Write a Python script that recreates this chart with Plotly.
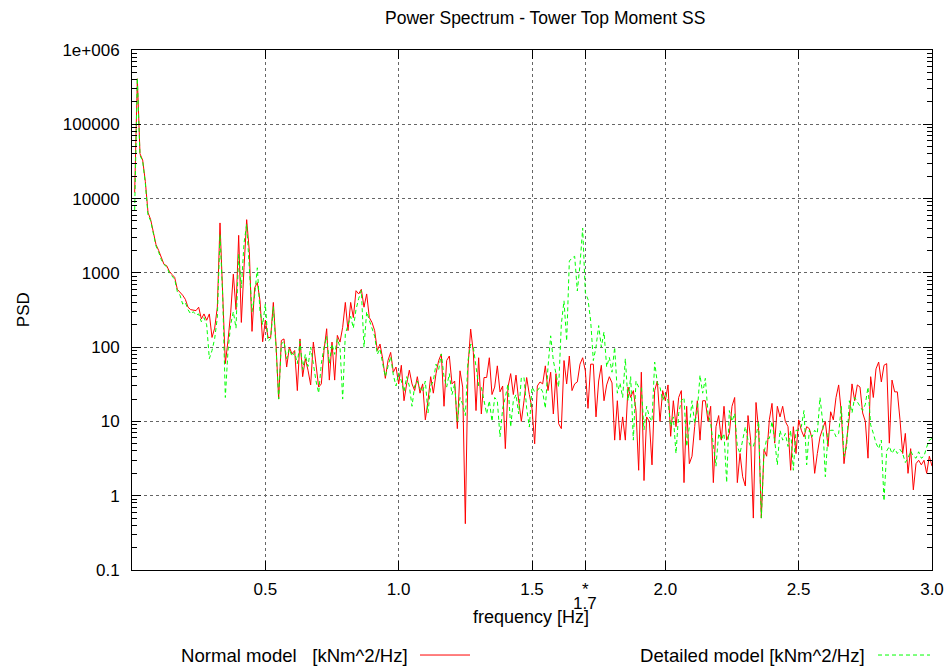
import plotly.graph_objects as go

# Frequency bins (Hz), 0.01 Hz resolution
freq = [round(0.01 * i, 2) for i in range(1, 301)]

# PSD of tower top side-side moment, normal model [kNm^2/Hz]
psd_normal = [
    12000, 410000, 40000, 33000, 17000, 6500, 5200, 3500, 2400, 2000,
    1600, 1300, 1250, 1050, 950, 870, 600, 550, 500, 440,
    345, 320, 316, 310, 345, 240, 280, 230, 280, 135,
    180, 345, 4700, 630, 60, 123, 290, 960, 320, 3200,
    215, 1170, 5200, 1950, 163, 630, 740, 420, 118, 230,
    135, 135, 400, 110, 20, 123, 129, 54, 100, 81,
    90, 26, 129, 40, 70, 49, 31, 117, 60, 29,
    32, 90, 177, 36, 117, 36, 144, 117, 185, 400,
    167, 400, 250, 575, 520, 600, 345, 520, 250, 215,
    167, 90, 110, 70, 38, 66, 85, 46, 54, 32,
    57, 19, 32, 49, 32, 26, 40, 24, 32, 10.5,
    19, 40, 24, 44, 66, 81, 16, 66, 76, 32,
    35, 8, 48, 29, 0.42, 54, 175, 85, 14, 72,
    12.6, 39, 39, 72, 23, 29, 56, 25, 30, 4.3,
    29, 44, 23, 42, 19, 10, 19, 39, 23, 15,
    5, 30, 34, 32, 56, 26, 46, 12.6, 44, 9.3,
    8, 66, 32, 76, 26, 32, 34, 59, 72, 48,
    15, 59, 59, 11.5, 35, 57, 19, 31, 40, 33,
    5.6, 19, 5.6, 11.5, 5.6, 29, 21, 26, 14, 2.2,
    46, 1.6, 11.5, 10, 2.6, 26, 35, 10, 26, 19,
    31, 6.3, 19, 8.5, 21, 26, 1.5, 16, 2.7, 3.4,
    8.5, 19, 5.6, 19, 19, 10, 16, 1.5, 8.5, 12,
    5.6, 16, 5.6, 6.9, 16, 21, 1.5, 3.7, 1.8, 1.35,
    12, 5.6, 0.5, 18, 7.6, 0.5, 4.2, 3.4, 10.5, 17.5,
    5.1, 16, 11.5, 16, 10, 8.5, 2.2, 8.5, 3.7, 10.5,
    7.6, 6.2, 8.5, 8, 5.9, 2.0, 3.7, 6.2, 8, 10,
    4.6, 13.5, 10.5, 21, 31, 13, 2.7, 5.1, 11.5, 32,
    19, 31, 29, 13, 10, 3.2, 40, 21, 51, 63,
    34, 57, 60, 5.1, 36, 25, 25, 10.5, 3.7, 6.9,
    2.0, 4.3, 1.2, 2.7, 3, 2.6, 3, 2, 3.4, 2.5,
]

# PSD of tower top side-side moment, detailed model [kNm^2/Hz]
psd_detailed = [
    7000, 420000, 38000, 32000, 16000, 6000, 5000, 3300, 2300, 1900,
    1500, 1300, 1200, 1000, 900, 820, 560, 500, 380, 400,
    320, 280, 300, 270, 280, 220, 250, 200, 70, 90,
    130, 250, 3300, 500, 21, 90, 200, 300, 180, 1800,
    630, 2500, 4500, 1200, 300, 500, 1170, 300, 200, 380,
    120, 130, 350, 100, 20, 110, 120, 70, 95, 75,
    85, 60, 120, 50, 80, 55, 100, 60, 35, 24,
    60, 100, 140, 60, 110, 80, 130, 100, 20, 150,
    200, 260, 180, 320, 450, 580, 100, 300, 230, 180,
    140, 80, 95, 60, 40, 55, 75, 42, 30, 45,
    35, 25, 40, 30, 16, 30, 35, 28, 25, 35,
    13, 30, 35, 59, 50, 81, 40, 29, 44, 23,
    32, 10, 21, 17, 12, 66, 110, 100, 59, 30,
    29, 19, 12.6, 19, 10, 21, 19, 6.2, 15, 21,
    32, 8.4, 19, 23, 12.6, 39, 39, 15, 8.4, 29,
    25, 26, 29, 25, 15, 54, 142, 66, 44, 29,
    204, 420, 121, 1440, 1590, 1670, 570, 1290, 4000, 540,
    440, 225, 66, 100, 195, 100, 160, 54, 73, 46,
    100, 24, 33, 21, 70, 19, 40, 5.6, 35, 29,
    29, 7.7, 16, 11.5, 10, 63, 33, 29, 19, 24,
    19, 8.5, 11.5, 3.7, 12.8, 19, 21, 4.6, 8.5, 19,
    9.4, 14, 42, 24, 38, 12.8, 9.4, 5, 2.5, 6.9,
    5.6, 6.9, 1.5, 14, 10, 12.8, 4.6, 3.7, 6, 8.5,
    5.6, 4.6, 4.6, 6.2, 10, 0.5, 3.7, 5.9, 5.9, 10,
    5.6, 2.6, 7.6, 5.6, 6.9, 4.6, 7.6, 2.2, 7.6, 7.6,
    8.5, 14, 2.6, 7.6, 6.2, 7.6, 6.9, 21, 10, 1.8,
    6.9, 7.6, 7.6, 6.2, 6.9, 16, 3.4, 4.6, 19, 13,
    21, 18, 16, 14, 17, 29, 9, 6.9, 5.1, 4.3,
    5.6, 0.85, 4, 4.6, 3.7, 4.3, 3.7, 4.2, 3.7, 2.8,
    3.2, 4, 3.4, 3.2, 3.9, 3.2, 3.4, 4.5, 5.6, 5.9,
]

# Axis ticks; 1.7 Hz is flagged with an extra marked tick
x_tickvals = [0.5, 1.0, 1.5, 1.7, 2.0, 2.5, 3.0]
x_ticktext = ["0.5", "1.0", "1.5", "*", "2.0", "2.5", "3.0"]
marked_freq = 1.7
marked_label = "1.7"
y_tickvals = [0.1, 1, 10, 100, 1000, 10000, 100000, 1000000]
y_ticktext = ["0.1", "1", "10", "100", "1000", "10000", "100000", "1e+006"]

NORMAL_COLOR = "#ff0000"
DETAILED_COLOR = "#00ff00"
DETAILED_DASH = "4px,3px"
FONT = "Liberation Sans, Arial, sans-serif"
FS = 17

fig = go.Figure()
fig.add_trace(go.Scatter(
    x=freq, y=psd_normal, mode="lines", name="Normal model   [kNm^2/Hz]",
    line=dict(color=NORMAL_COLOR, width=1), showlegend=False,
))
fig.add_trace(go.Scatter(
    x=freq, y=psd_detailed, mode="lines", name="Detailed model [kNm^2/Hz]",
    line=dict(color=DETAILED_COLOR, width=1, dash=DETAILED_DASH), showlegend=False,
))

axis_common = dict(
    showline=True, linecolor="black", linewidth=1, mirror="allticks",
    ticks="inside", tickcolor="black", ticklen=9, tickwidth=1,
    showgrid=True, gridcolor="#666666", gridwidth=1, griddash="dot",
    zeroline=False, automargin=False,
    tickfont=dict(family=FONT, size=FS, color="black"),
)

fig.update_xaxes(
    range=[0, 3.0], tickmode="array", tickvals=x_tickvals, ticktext=x_ticktext,
    ticklabelstandoff=4, **axis_common,
)
fig.update_yaxes(
    type="log", range=[-1, 6], tickmode="array", tickvals=y_tickvals,
    ticktext=y_ticktext, ticklabelstandoff=8,
    minor=dict(ticks="inside", ticklen=5, tickcolor="black", dtick="D1", showgrid=False),
    **axis_common,
)

annotations = [
    dict(text="Power Spectrum - Tower Top Moment SS", x=0.516, y=1.0615,
         xanchor="center", yanchor="middle", showarrow=False, size=17.5),
    dict(text="frequency [Hz]", x=0.499, y=-0.0904,
         xanchor="center", yanchor="middle", showarrow=False, size=18),
    dict(text=marked_label, x=marked_freq, xref="x", y=-0.0635,
         xanchor="center", yanchor="middle", showarrow=False, size=FS),
    dict(text="PSD", x=-0.136, y=0.5, textangle=-90,
         xanchor="center", yanchor="middle", showarrow=False, size=FS),
    dict(text="Normal model\u00a0\u00a0\u00a0[kNm^2/Hz]", x=0.3475, y=-0.1635,
         xanchor="right", yanchor="middle", showarrow=False, size=18.6),
    dict(text="Detailed model [kNm^2/Hz]", x=0.91875, y=-0.1635,
         xanchor="right", yanchor="middle", showarrow=False, size=18.6),
]
for a in annotations:
    size = a.pop("size")
    a.setdefault("xref", "paper")
    a.update(yref="paper", font=dict(family=FONT, size=size, color="black"))

shapes = [
    dict(type="line", xref="paper", yref="paper", x0=0.36, x1=0.4225,
         y0=-0.1635, y1=-0.1635, line=dict(color=NORMAL_COLOR, width=1)),
    dict(type="line", xref="paper", yref="paper", x0=0.9325, x1=0.9975,
         y0=-0.1635, y1=-0.1635,
         line=dict(color=DETAILED_COLOR, width=1, dash=DETAILED_DASH)),
]

fig.update_layout(
    width=948, height=666,
    margin=dict(l=132, r=16, t=50, b=96),
    paper_bgcolor="white", plot_bgcolor="white",
    font=dict(family=FONT, size=FS, color="black"),
    annotations=annotations, shapes=shapes,
    showlegend=False,
)

fig.write_html("out.html")
